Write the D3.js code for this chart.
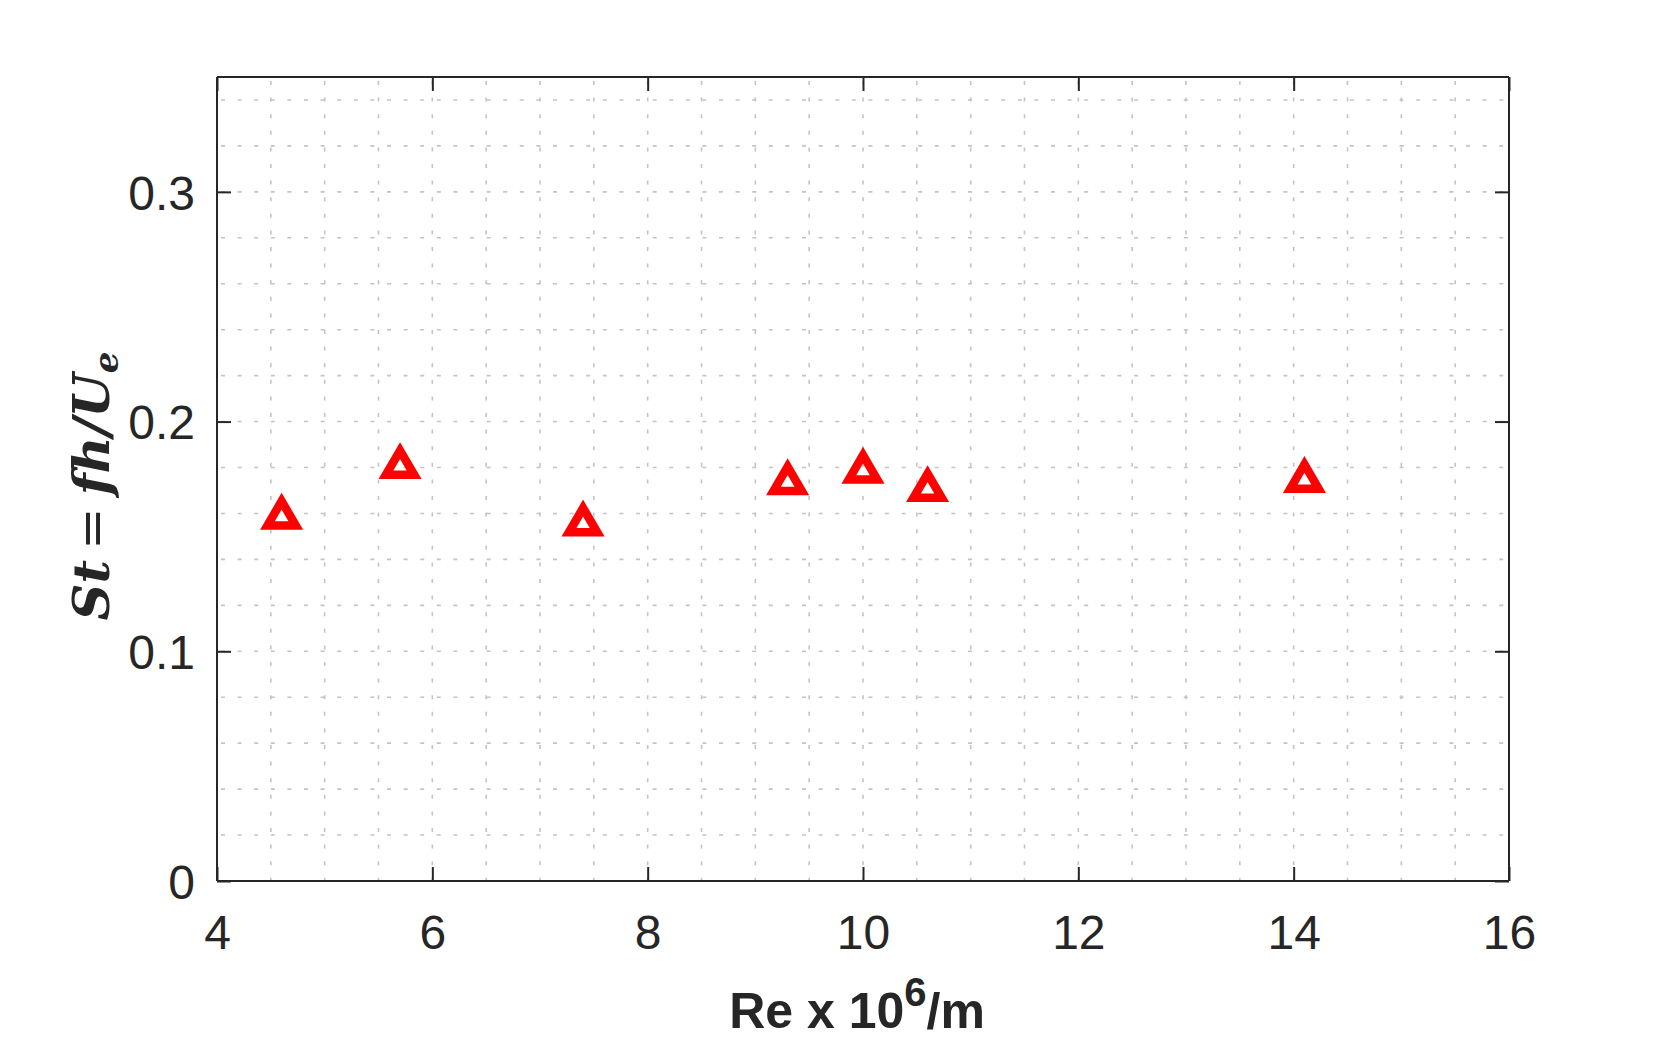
<!DOCTYPE html>
<html>
<head>
<meta charset="utf-8">
<script src="https://cdn.jsdelivr.net/npm/d3@7"></script>
<style>
  html, body { margin: 0; padding: 0; background: #fff; }
  svg { display: block; }
</style>
</head>
<body>
<svg id="chart" width="1668" height="1042"></svg>
<script>
// ---- data ----
const reynolds = [4.6, 5.7, 7.4, 9.3, 10.0, 10.6, 14.1];
const strouhal = [0.161, 0.183, 0.158, 0.176, 0.181, 0.173, 0.177];
const xTicks = [4, 6, 8, 10, 12, 14, 16];
const yTicks = [0, 0.1, 0.2, 0.3];
const xMinor = d3.range(4, 16.001, 0.5);
const yMinor = d3.range(0, 0.3501, 0.02);

// ---- layout ----
const W = 1668, H = 1042;
const m = { left: 217, top: 77, right: 1668 - 1509, bottom: 1042 - 881 };
const iw = W - m.left - m.right, ih = H - m.top - m.bottom;
const axisColor = '#262626';

const svg = d3.select('#chart');
const g = svg.append('g').attr('transform', `translate(${m.left},${m.top})`);

const x = d3.scaleLinear().domain([4, 16]).range([0, iw]);
const y = d3.scaleLinear().domain([0, 0.35]).range([ih, 0]);

// grid
const grid = g.append('g').attr('stroke', '#c4c4c4').attr('stroke-width', 1.6)
  .attr('stroke-dasharray', '4,12.6');
grid.selectAll('line.vx').data(xMinor.filter(v => v > 4.001 && v < 15.999)).join('line')
  .attr('x1', d => x(d)).attr('x2', d => x(d)).attr('y1', 4).attr('y2', ih);
grid.selectAll('line.hy').data(yMinor.filter(v => v > 0.001 && v < 0.349)).join('line')
  .attr('y1', d => y(d)).attr('y2', d => y(d)).attr('x1', 4).attr('x2', iw);

// axes (ticks inside, box)
const tickLen = 14;
const font = '"Liberation Sans", Arial, Helvetica, sans-serif';

const xAxisB = d3.axisBottom(x).tickValues(xTicks).tickSize(-tickLen).tickPadding(34).tickFormat(d3.format('d'));
const xAxisT = d3.axisTop(x).tickValues(xTicks).tickSize(-tickLen).tickFormat('');
const yAxisL = d3.axisLeft(y).tickValues(yTicks).tickSize(-tickLen).tickPadding(22).tickFormat(d => d === 0 ? '0' : d3.format('.1f')(d));
const yAxisR = d3.axisRight(y).tickValues(yTicks).tickSize(-tickLen).tickFormat('');

function style(sel) {
  sel.selectAll('path').attr('stroke', axisColor).attr('stroke-width', 2);
  sel.selectAll('line').attr('stroke', axisColor).attr('stroke-width', 2);
  sel.selectAll('text').attr('fill', axisColor).style('font-family', font).style('font-size', '48px');
}
g.append('g').attr('transform', `translate(0,${ih})`).call(xAxisB).call(style)
  .call(s => s.selectAll('path.domain').attr('d', `M0,0H${iw}`))
  .call(s => s.selectAll('.tick text').attr('dy', '0.71em'));
g.append('g').call(xAxisT).call(style)
  .call(s => s.selectAll('path.domain').attr('d', `M0,0H${iw}`));
g.append('g').call(yAxisL).call(style)
  .call(s => s.selectAll('path.domain').attr('d', `M0,0V${ih}`))
  .call(s => s.selectAll('.tick text').attr('dy', '0.36em'));
g.append('g').attr('transform', `translate(${iw},0)`).call(yAxisR).call(style)
  .call(s => s.selectAll('path.domain').attr('d', `M0,0V${ih}`));

// markers (triangles, red outline)
const sw = 8.5;
const tri = 'M0,-10L14.15,14.25L-14.15,14.25Z';
g.append('g').selectAll('path').data(reynolds.map((r, i) => [r, strouhal[i]])).join('path')
  .attr('d', tri)
  .attr('transform', d => `translate(${x(d[0])},${y(d[1])})`)
  .attr('fill', 'none').attr('stroke', '#ff0000').attr('stroke-width', sw)
  .attr('stroke-linejoin', 'miter').attr('stroke-miterlimit', 10);

// x label
const xl = svg.append('text')
  .attr('x', m.left + iw / 2 - 6).attr('y', 1028)
  .attr('text-anchor', 'middle').attr('fill', axisColor)
  .style('font-family', font).style('font-size', '50px').style('font-weight', 'bold');
xl.append('tspan').text('Re x 10');
xl.append('tspan').attr('dy', -22).style('font-size', '40px').text('6');
xl.append('tspan').attr('dy', 22).text('/m');

// y label (math)
const yl = svg.append('text')
  .attr('transform', `translate(109,486) rotate(-90)`)
  .attr('text-anchor', 'middle').attr('fill', axisColor)
  .style('font-family', '"DejaVu Serif", "Liberation Serif", serif').style('font-size', '51px');
const bi = s => s.style('font-weight', 'bold').style('font-style', 'italic');
yl.append('tspan').call(bi).text('St');
yl.append('tspan').attr('dx', 10).text('=');
yl.append('tspan').attr('dx', 12).call(bi).text('fh');
yl.append('tspan').call(bi).text('/');
yl.append('tspan').call(bi).text('U');
yl.append('tspan').attr('dy', 9).call(bi).style('font-size', '34px').text('e');
</script>
</body>
</html>
